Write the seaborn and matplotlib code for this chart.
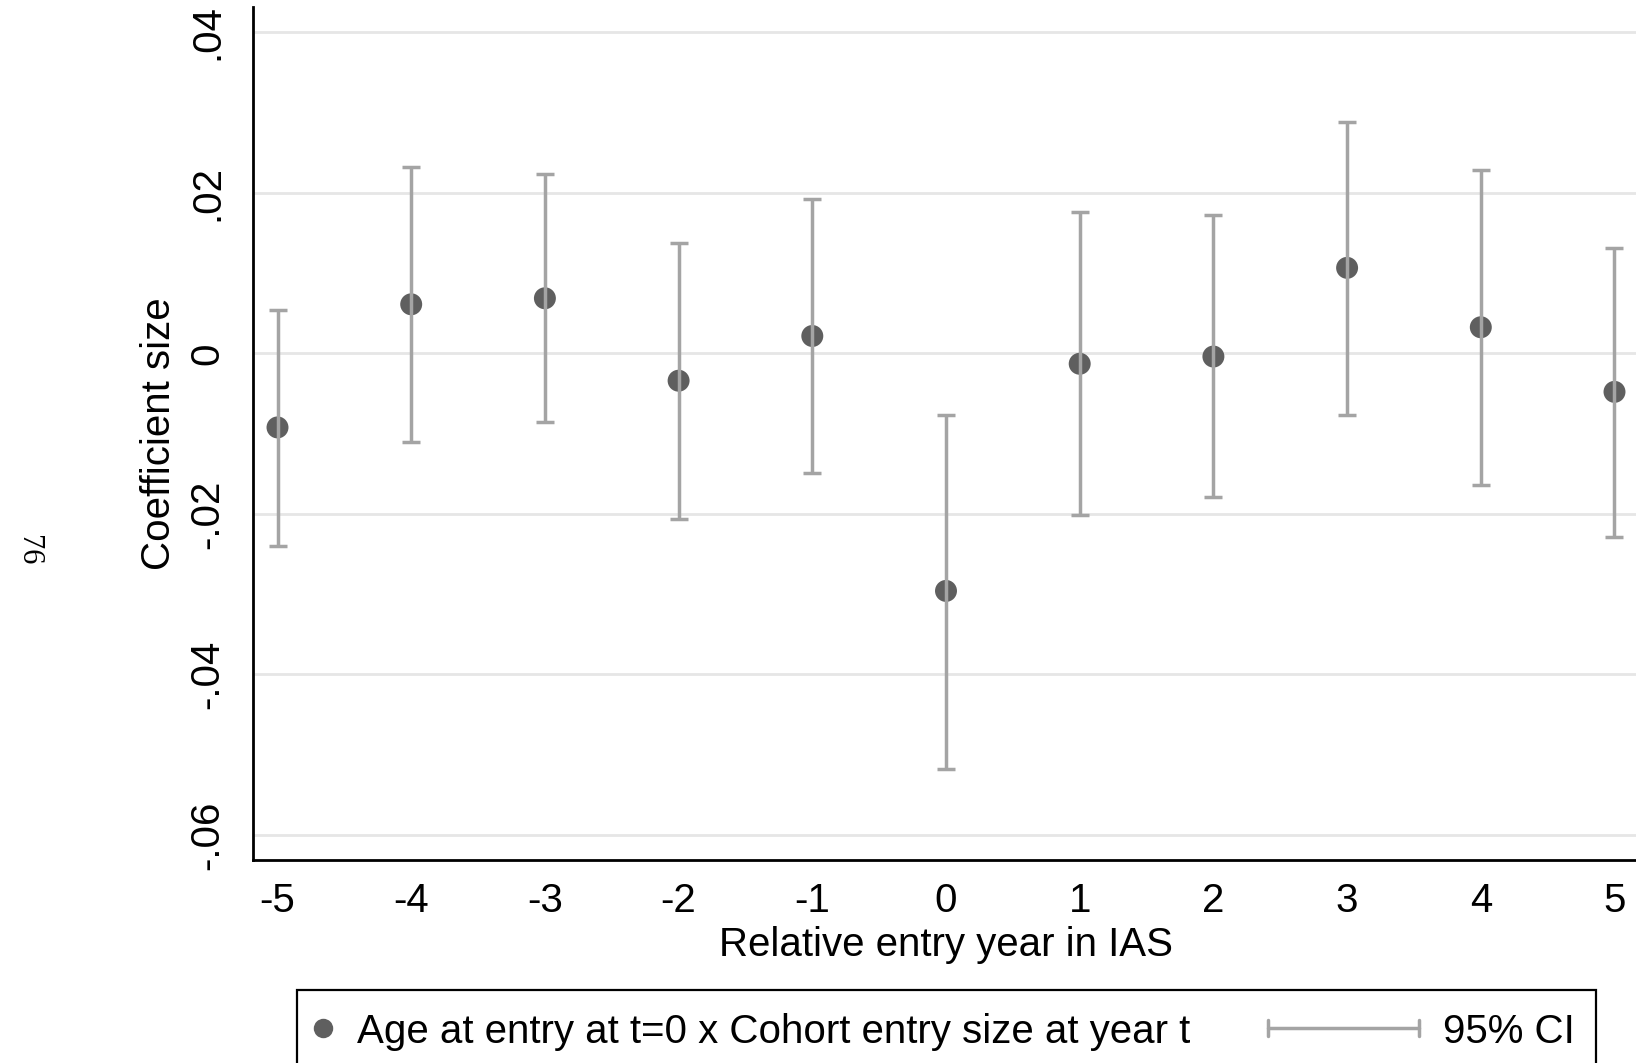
import matplotlib
matplotlib.use("Agg")
import matplotlib.pyplot as plt
from matplotlib.patches import Rectangle
from matplotlib.lines import Line2D
import seaborn as sns
import pandas as pd
import numpy as np

# ---- data ----
rel_year = [-5, -4, -3, -2, -1, 0, 1, 2, 3, 4, 5]
coef = [-0.00923, 0.00611, 0.00686, -0.00341, 0.00216, -0.0296, -0.0013, -0.0004, 0.01065, 0.00325, -0.0048]
ci_upper = [0.00536, 0.02324, 0.02229, 0.01372, 0.01929, -0.00766, 0.01766, 0.01727, 0.02883, 0.02286, 0.01312]
ci_lower = [-0.02399, -0.01102, -0.00861, -0.02062, -0.01493, -0.0518, -0.02013, -0.01792, -0.00766, -0.01636, -0.02286]
y_ticks = [-0.06, -0.04, -0.02, 0.0, 0.02, 0.04]
y_tick_labels = ["-.06", "-.04", "-.02", "0", ".02", ".04"]
x_ticks = [-5, -4, -3, -2, -1, 0, 1, 2, 3, 4, 5]

df = pd.DataFrame({"year": rel_year, "coef": coef, "lo": ci_lower, "hi": ci_upper})

sns.set_theme(style="white")
plt.rcParams["font.family"] = ["Liberation Sans", "DejaVu Sans"]

W, H = 1636, 1063
fig = plt.figure(figsize=(W / 100, H / 100), dpi=100)

# axes geometry in pixels (from reference)
ax_left, ax_right = 252.5, 1639.5
ax_top, ax_bottom = 7.0, 859.8
ax = fig.add_axes([ax_left / W, (H - ax_bottom) / H, (ax_right - ax_left) / W, (ax_bottom - ax_top) / H])

MARK = "#5f5f5f"
CI = "#a4a4a4"
FS = 29

sns.scatterplot(data=df, x="year", y="coef", ax=ax, s=250, color=MARK, edgecolor="none", zorder=3, legend=False)
ax.errorbar(df["year"], df["coef"],
            yerr=[df["coef"] - df["lo"], df["hi"] - df["coef"]],
            fmt="none", ecolor=CI, elinewidth=2.5, capsize=6.8, capthick=2.5, zorder=4)

ax.set_xlim(-5.187, 5.187)
ax.set_ylim(-0.0631, 0.04315)
ax.set_xticks(x_ticks)
ax.set_xticklabels([str(v) for v in x_ticks])
ax.set_yticks(y_ticks)
ax.set_yticklabels(y_tick_labels)

ax.grid(axis="y", color="#e6e6e6", linewidth=2.0, zorder=0)
ax.grid(axis="x", visible=False)
ax.set_axisbelow(True)

for side in ["top", "right"]:
    ax.spines[side].set_visible(False)
for side in ["left", "bottom"]:
    ax.spines[side].set_color("black")
    ax.spines[side].set_linewidth(2.0)

ax.tick_params(axis="both", which="major", direction="out", length=10.8, width=2.0,
               color="black", labelsize=FS, labelcolor="black")
ax.tick_params(axis="x", pad=5)
ax.tick_params(axis="y", pad=8, labelrotation=90)
for lab in ax.get_yticklabels():
    lab.set_va("center")

ax.set_xlabel("Relative entry year in IAS", fontsize=FS, color="black", va="center")
ax.xaxis.set_label_coords(0.5, (ax_bottom - 945) / (ax_bottom - ax_top))
ax.set_ylabel("Coefficient size", fontsize=FS, color="black", va="center")
ax.yaxis.set_label_coords((159 - ax_left) / (ax_right - ax_left), 0.5)

# ---- legend box (cut off at bottom, as in reference) ----
fy = lambda y: (H - y) / H
fx = lambda x: x / W
fig.patches.append(Rectangle((fx(297), fy(1080)), fx(1596) - fx(297), fy(990) - fy(1080),
                             transform=fig.transFigure, fill=False, edgecolor="black",
                             linewidth=1.6, clip_on=False))
fig.lines.append(Line2D([fx(323)], [fy(1028)], transform=fig.transFigure, marker="o",
                        markersize=14, color=MARK, markeredgewidth=0, linestyle="none"))
fig.text(fx(357), fy(1043), "Age at entry at t=0 x Cohort entry size at year t",
         fontsize=FS, color="black", ha="left", va="baseline")
fig.lines.append(Line2D([fx(1268), fx(1419)], [fy(1028), fy(1028)], transform=fig.transFigure,
                        color=CI, linewidth=2.5))
for xx in (1268, 1419):
    fig.lines.append(Line2D([fx(xx), fx(xx)], [fy(1020), fy(1036)], transform=fig.transFigure,
                            color=CI, linewidth=2.5))
fig.text(fx(1443), fy(1043), "95% CI", fontsize=FS, color="black", ha="left", va="baseline")

# page number at left margin
fig.text(fx(28), fy(550), "76", rotation=-90, fontsize=22, family=["Liberation Serif", "DejaVu Serif"],
         ha="center", va="center", color="black")

fig.savefig("out.png", dpi=100, facecolor="white")
